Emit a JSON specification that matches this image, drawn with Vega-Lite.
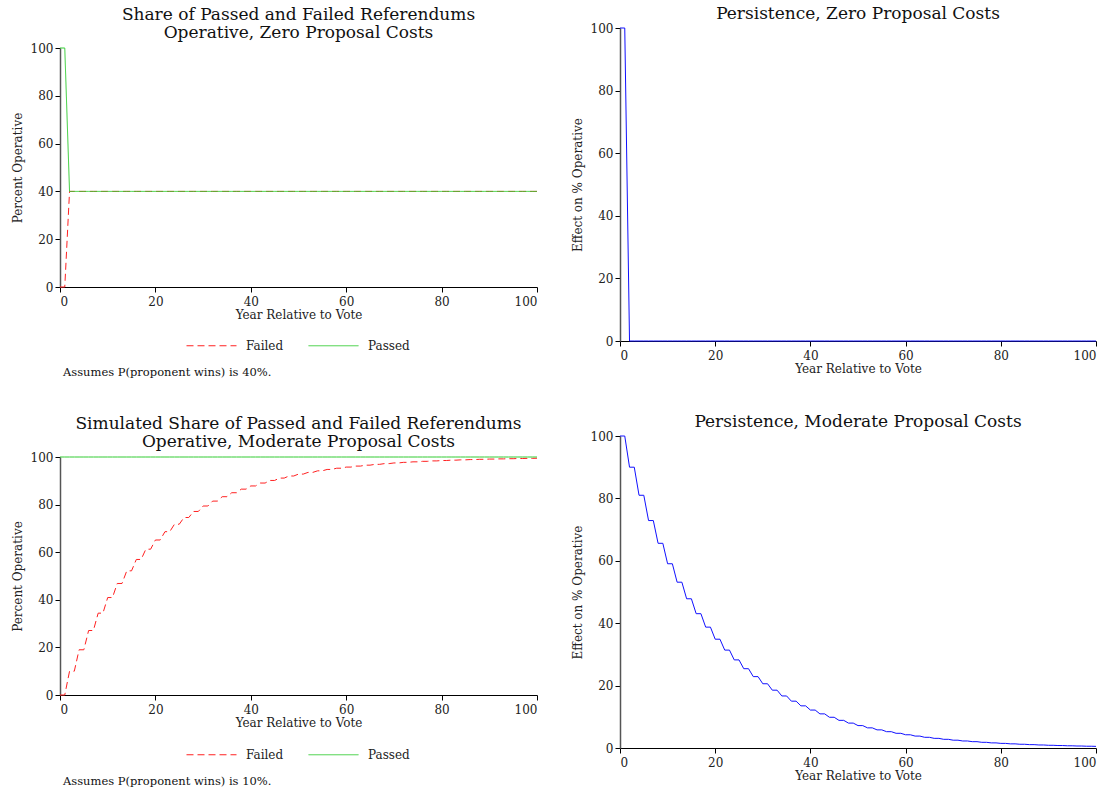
{
"$schema": "https://vega.github.io/schema/vega-lite/v6.json",
"padding": {"left": 11, "top": 5, "right": 5, "bottom": 5},
"datasets": {
"zero": [
{"year":0,"Failed":0,"Passed":100,"effect":100},{"year":1,"Failed":0,"Passed":100,"effect":100},
{"year":2,"Failed":40,"Passed":40,"effect":0},{"year":3,"Failed":40,"Passed":40,"effect":0},{"year":4,"Failed":40,"Passed":40,"effect":0},{"year":5,"Failed":40,"Passed":40,"effect":0},{"year":6,"Failed":40,"Passed":40,"effect":0},{"year":7,"Failed":40,"Passed":40,"effect":0},{"year":8,"Failed":40,"Passed":40,"effect":0},{"year":9,"Failed":40,"Passed":40,"effect":0},
{"year":10,"Failed":40,"Passed":40,"effect":0},{"year":11,"Failed":40,"Passed":40,"effect":0},{"year":12,"Failed":40,"Passed":40,"effect":0},{"year":13,"Failed":40,"Passed":40,"effect":0},{"year":14,"Failed":40,"Passed":40,"effect":0},{"year":15,"Failed":40,"Passed":40,"effect":0},{"year":16,"Failed":40,"Passed":40,"effect":0},{"year":17,"Failed":40,"Passed":40,"effect":0},{"year":18,"Failed":40,"Passed":40,"effect":0},{"year":19,"Failed":40,"Passed":40,"effect":0},
{"year":20,"Failed":40,"Passed":40,"effect":0},{"year":21,"Failed":40,"Passed":40,"effect":0},{"year":22,"Failed":40,"Passed":40,"effect":0},{"year":23,"Failed":40,"Passed":40,"effect":0},{"year":24,"Failed":40,"Passed":40,"effect":0},{"year":25,"Failed":40,"Passed":40,"effect":0},{"year":26,"Failed":40,"Passed":40,"effect":0},{"year":27,"Failed":40,"Passed":40,"effect":0},{"year":28,"Failed":40,"Passed":40,"effect":0},{"year":29,"Failed":40,"Passed":40,"effect":0},
{"year":30,"Failed":40,"Passed":40,"effect":0},{"year":31,"Failed":40,"Passed":40,"effect":0},{"year":32,"Failed":40,"Passed":40,"effect":0},{"year":33,"Failed":40,"Passed":40,"effect":0},{"year":34,"Failed":40,"Passed":40,"effect":0},{"year":35,"Failed":40,"Passed":40,"effect":0},{"year":36,"Failed":40,"Passed":40,"effect":0},{"year":37,"Failed":40,"Passed":40,"effect":0},{"year":38,"Failed":40,"Passed":40,"effect":0},{"year":39,"Failed":40,"Passed":40,"effect":0},
{"year":40,"Failed":40,"Passed":40,"effect":0},{"year":41,"Failed":40,"Passed":40,"effect":0},{"year":42,"Failed":40,"Passed":40,"effect":0},{"year":43,"Failed":40,"Passed":40,"effect":0},{"year":44,"Failed":40,"Passed":40,"effect":0},{"year":45,"Failed":40,"Passed":40,"effect":0},{"year":46,"Failed":40,"Passed":40,"effect":0},{"year":47,"Failed":40,"Passed":40,"effect":0},{"year":48,"Failed":40,"Passed":40,"effect":0},{"year":49,"Failed":40,"Passed":40,"effect":0},
{"year":50,"Failed":40,"Passed":40,"effect":0},{"year":51,"Failed":40,"Passed":40,"effect":0},{"year":52,"Failed":40,"Passed":40,"effect":0},{"year":53,"Failed":40,"Passed":40,"effect":0},{"year":54,"Failed":40,"Passed":40,"effect":0},{"year":55,"Failed":40,"Passed":40,"effect":0},{"year":56,"Failed":40,"Passed":40,"effect":0},{"year":57,"Failed":40,"Passed":40,"effect":0},{"year":58,"Failed":40,"Passed":40,"effect":0},{"year":59,"Failed":40,"Passed":40,"effect":0},
{"year":60,"Failed":40,"Passed":40,"effect":0},{"year":61,"Failed":40,"Passed":40,"effect":0},{"year":62,"Failed":40,"Passed":40,"effect":0},{"year":63,"Failed":40,"Passed":40,"effect":0},{"year":64,"Failed":40,"Passed":40,"effect":0},{"year":65,"Failed":40,"Passed":40,"effect":0},{"year":66,"Failed":40,"Passed":40,"effect":0},{"year":67,"Failed":40,"Passed":40,"effect":0},{"year":68,"Failed":40,"Passed":40,"effect":0},{"year":69,"Failed":40,"Passed":40,"effect":0},
{"year":70,"Failed":40,"Passed":40,"effect":0},{"year":71,"Failed":40,"Passed":40,"effect":0},{"year":72,"Failed":40,"Passed":40,"effect":0},{"year":73,"Failed":40,"Passed":40,"effect":0},{"year":74,"Failed":40,"Passed":40,"effect":0},{"year":75,"Failed":40,"Passed":40,"effect":0},{"year":76,"Failed":40,"Passed":40,"effect":0},{"year":77,"Failed":40,"Passed":40,"effect":0},{"year":78,"Failed":40,"Passed":40,"effect":0},{"year":79,"Failed":40,"Passed":40,"effect":0},
{"year":80,"Failed":40,"Passed":40,"effect":0},{"year":81,"Failed":40,"Passed":40,"effect":0},{"year":82,"Failed":40,"Passed":40,"effect":0},{"year":83,"Failed":40,"Passed":40,"effect":0},{"year":84,"Failed":40,"Passed":40,"effect":0},{"year":85,"Failed":40,"Passed":40,"effect":0},{"year":86,"Failed":40,"Passed":40,"effect":0},{"year":87,"Failed":40,"Passed":40,"effect":0},{"year":88,"Failed":40,"Passed":40,"effect":0},{"year":89,"Failed":40,"Passed":40,"effect":0},
{"year":90,"Failed":40,"Passed":40,"effect":0},{"year":91,"Failed":40,"Passed":40,"effect":0},{"year":92,"Failed":40,"Passed":40,"effect":0},{"year":93,"Failed":40,"Passed":40,"effect":0},{"year":94,"Failed":40,"Passed":40,"effect":0},{"year":95,"Failed":40,"Passed":40,"effect":0},{"year":96,"Failed":40,"Passed":40,"effect":0},{"year":97,"Failed":40,"Passed":40,"effect":0},{"year":98,"Failed":40,"Passed":40,"effect":0},{"year":99,"Failed":40,"Passed":40,"effect":0},
{"year":100,"Failed":40,"Passed":40,"effect":0}
],
"moderate": [
{"year":0,"Failed":0,"Passed":100,"effect":100},{"year":1,"Failed":0,"Passed":100,"effect":100},
{"year":2,"Failed":10,"Passed":100,"effect":90},{"year":3,"Failed":10,"Passed":100,"effect":90},
{"year":4,"Failed":19,"Passed":100,"effect":81},{"year":5,"Failed":19,"Passed":100,"effect":81},
{"year":6,"Failed":27.1,"Passed":100,"effect":72.9},{"year":7,"Failed":27.1,"Passed":100,"effect":72.9},
{"year":8,"Failed":34.39,"Passed":100,"effect":65.61},{"year":9,"Failed":34.39,"Passed":100,"effect":65.61},
{"year":10,"Failed":40.95,"Passed":100,"effect":59.05},{"year":11,"Failed":40.95,"Passed":100,"effect":59.05},
{"year":12,"Failed":46.86,"Passed":100,"effect":53.14},{"year":13,"Failed":46.86,"Passed":100,"effect":53.14},
{"year":14,"Failed":52.17,"Passed":100,"effect":47.83},{"year":15,"Failed":52.17,"Passed":100,"effect":47.83},
{"year":16,"Failed":56.95,"Passed":100,"effect":43.05},{"year":17,"Failed":56.95,"Passed":100,"effect":43.05},
{"year":18,"Failed":61.26,"Passed":100,"effect":38.74},{"year":19,"Failed":61.26,"Passed":100,"effect":38.74},
{"year":20,"Failed":65.13,"Passed":100,"effect":34.87},{"year":21,"Failed":65.13,"Passed":100,"effect":34.87},
{"year":22,"Failed":68.62,"Passed":100,"effect":31.38},{"year":23,"Failed":68.62,"Passed":100,"effect":31.38},
{"year":24,"Failed":71.76,"Passed":100,"effect":28.24},{"year":25,"Failed":71.76,"Passed":100,"effect":28.24},
{"year":26,"Failed":74.58,"Passed":100,"effect":25.42},{"year":27,"Failed":74.58,"Passed":100,"effect":25.42},
{"year":28,"Failed":77.12,"Passed":100,"effect":22.88},{"year":29,"Failed":77.12,"Passed":100,"effect":22.88},
{"year":30,"Failed":79.41,"Passed":100,"effect":20.59},{"year":31,"Failed":79.41,"Passed":100,"effect":20.59},
{"year":32,"Failed":81.47,"Passed":100,"effect":18.53},{"year":33,"Failed":81.47,"Passed":100,"effect":18.53},
{"year":34,"Failed":83.32,"Passed":100,"effect":16.68},{"year":35,"Failed":83.32,"Passed":100,"effect":16.68},
{"year":36,"Failed":84.99,"Passed":100,"effect":15.01},{"year":37,"Failed":84.99,"Passed":100,"effect":15.01},
{"year":38,"Failed":86.49,"Passed":100,"effect":13.51},{"year":39,"Failed":86.49,"Passed":100,"effect":13.51},
{"year":40,"Failed":87.84,"Passed":100,"effect":12.16},{"year":41,"Failed":87.84,"Passed":100,"effect":12.16},
{"year":42,"Failed":89.06,"Passed":100,"effect":10.94},{"year":43,"Failed":89.06,"Passed":100,"effect":10.94},
{"year":44,"Failed":90.15,"Passed":100,"effect":9.85},{"year":45,"Failed":90.15,"Passed":100,"effect":9.85},
{"year":46,"Failed":91.14,"Passed":100,"effect":8.86},{"year":47,"Failed":91.14,"Passed":100,"effect":8.86},
{"year":48,"Failed":92.02,"Passed":100,"effect":7.98},{"year":49,"Failed":92.02,"Passed":100,"effect":7.98},
{"year":50,"Failed":92.82,"Passed":100,"effect":7.18},{"year":51,"Failed":92.82,"Passed":100,"effect":7.18},
{"year":52,"Failed":93.54,"Passed":100,"effect":6.46},{"year":53,"Failed":93.54,"Passed":100,"effect":6.46},
{"year":54,"Failed":94.19,"Passed":100,"effect":5.81},{"year":55,"Failed":94.19,"Passed":100,"effect":5.81},
{"year":56,"Failed":94.77,"Passed":100,"effect":5.23},{"year":57,"Failed":94.77,"Passed":100,"effect":5.23},
{"year":58,"Failed":95.29,"Passed":100,"effect":4.71},{"year":59,"Failed":95.29,"Passed":100,"effect":4.71},
{"year":60,"Failed":95.76,"Passed":100,"effect":4.24},{"year":61,"Failed":95.76,"Passed":100,"effect":4.24},
{"year":62,"Failed":96.18,"Passed":100,"effect":3.82},{"year":63,"Failed":96.18,"Passed":100,"effect":3.82},
{"year":64,"Failed":96.57,"Passed":100,"effect":3.43},{"year":65,"Failed":96.57,"Passed":100,"effect":3.43},
{"year":66,"Failed":96.91,"Passed":100,"effect":3.09},{"year":67,"Failed":96.91,"Passed":100,"effect":3.09},
{"year":68,"Failed":97.22,"Passed":100,"effect":2.78},{"year":69,"Failed":97.22,"Passed":100,"effect":2.78},
{"year":70,"Failed":97.5,"Passed":100,"effect":2.5},{"year":71,"Failed":97.5,"Passed":100,"effect":2.5},
{"year":72,"Failed":97.75,"Passed":100,"effect":2.25},{"year":73,"Failed":97.75,"Passed":100,"effect":2.25},
{"year":74,"Failed":97.97,"Passed":100,"effect":2.03},{"year":75,"Failed":97.97,"Passed":100,"effect":2.03},
{"year":76,"Failed":98.18,"Passed":100,"effect":1.82},{"year":77,"Failed":98.18,"Passed":100,"effect":1.82},
{"year":78,"Failed":98.36,"Passed":100,"effect":1.64},{"year":79,"Failed":98.36,"Passed":100,"effect":1.64},
{"year":80,"Failed":98.52,"Passed":100,"effect":1.48},{"year":81,"Failed":98.52,"Passed":100,"effect":1.48},
{"year":82,"Failed":98.67,"Passed":100,"effect":1.33},{"year":83,"Failed":98.67,"Passed":100,"effect":1.33},
{"year":84,"Failed":98.8,"Passed":100,"effect":1.2},{"year":85,"Failed":98.8,"Passed":100,"effect":1.2},
{"year":86,"Failed":98.92,"Passed":100,"effect":1.08},{"year":87,"Failed":98.92,"Passed":100,"effect":1.08},
{"year":88,"Failed":99.03,"Passed":100,"effect":0.97},{"year":89,"Failed":99.03,"Passed":100,"effect":0.97},
{"year":90,"Failed":99.13,"Passed":100,"effect":0.87},{"year":91,"Failed":99.13,"Passed":100,"effect":0.87},
{"year":92,"Failed":99.21,"Passed":100,"effect":0.79},{"year":93,"Failed":99.21,"Passed":100,"effect":0.79},
{"year":94,"Failed":99.29,"Passed":100,"effect":0.71},{"year":95,"Failed":99.29,"Passed":100,"effect":0.71},
{"year":96,"Failed":99.36,"Passed":100,"effect":0.64},{"year":97,"Failed":99.36,"Passed":100,"effect":0.64},
{"year":98,"Failed":99.43,"Passed":100,"effect":0.57},{"year":99,"Failed":99.43,"Passed":100,"effect":0.57},
{"year":100,"Failed":99.48,"Passed":100,"effect":0.52}
]
},
"config": {
"font": "DejaVu Serif",
"view": {"stroke": null},
"title": {"font": "DejaVu Serif", "fontSize": 17, "fontWeight": "normal", "color": "#111", "offset": 0, "lineHeight": 18},
"axis": {"grid": false, "domainColor": "#000", "tickColor": "#000", "tickSize": 5, "labelFont": "DejaVu Serif", "labelFontSize": 12, "labelColor": "#222", "labelPadding": 2, "titleFont": "DejaVu Serif", "titleFontSize": 12, "titleFontWeight": "normal", "titleColor": "#222"},
"axisY": {"domainColor": "#555", "domainWidth": 1.5, "titlePadding": 6},
"axisX": {"titlePadding": 2, "labelPadding": 4},
"legend": {"labelFont": "DejaVu Serif", "labelFontSize": 12, "labelColor": "#222", "symbolStrokeWidth": 1, "symbolSize": 196, "labelOffset": 45, "columnPadding": 22, "symbolType": "M-1,0H6.142857", "padding": 0}
},
"columns": 2,
"align": "none",
"spacing": 32,
"concat": [
{"spacing": 36, "vconcat": [
 {"spacing": 14, "resolve": {"scale": {"color": "independent", "strokeDash": "independent"}}, "vconcat": [
  {"spacing": 1, "vconcat": [
   {"width": 477, "height": 1, "data": {"values": []}, "mark": "point",
    "title": {"text": ["Share of Passed and Failed Referendums", "Operative, Zero Proposal Costs"], "orient": "bottom", "offset": 0}},
   {"width": 477, "height": 239,
    "data": {"name": "zero"},
    "transform": [{"fold": ["Failed", "Passed"], "as": ["series", "value"]}],
    "mark": {"type": "line", "strokeWidth": 1},
    "encoding": {
     "x": {"field": "year", "type": "quantitative", "scale": {"domain": [0, 100]}, "axis": {"title": "Year Relative to Vote", "values": [0, 20, 40, 60, 80, 100]}},
     "y": {"field": "value", "type": "quantitative", "scale": {"domain": [0, 100]}, "axis": {"title": "Percent Operative", "values": [0, 20, 40, 60, 80, 100]}},
     "color": {"field": "series", "type": "nominal", "scale": {"domain": ["Failed", "Passed"], "range": ["#ff2020", "#33cc33"]}, "legend": {"orient": "none", "legendX": 126, "legendY": 332, "direction": "horizontal", "title": null, "symbolType": "M-1,0H6.142857"}},
     "strokeDash": {"field": "series", "type": "nominal", "scale": {"domain": ["Failed", "Passed"], "range": [[7, 4], [1, 0]]}, "legend": {"orient": "none", "legendX": 126, "legendY": 332, "direction": "horizontal", "title": null, "symbolType": "M-1,0H6.142857"}}
    }}
  ]},
  {"width": 477, "height": 1, "data": {"values": []}, "mark": "point",
   "title": {"text": "Assumes P(proponent wins) is 40%.", "anchor": "start", "fontSize": 11.5, "offset": 0, "dx": 3}}
 ]},
 {"spacing": 14, "resolve": {"scale": {"color": "independent", "strokeDash": "independent"}}, "vconcat": [
  {"spacing": 1, "vconcat": [
   {"width": 477, "height": 1, "data": {"values": []}, "mark": "point",
    "title": {"text": ["Simulated Share of Passed and Failed Referendums", "Operative, Moderate Proposal Costs"], "orient": "bottom", "offset": 0}},
   {"width": 477, "height": 238,
    "data": {"name": "moderate"},
    "transform": [{"fold": ["Failed", "Passed"], "as": ["series", "value"]}],
    "mark": {"type": "line", "strokeWidth": 1},
    "encoding": {
     "x": {"field": "year", "type": "quantitative", "scale": {"domain": [0, 100]}, "axis": {"title": "Year Relative to Vote", "values": [0, 20, 40, 60, 80, 100]}},
     "y": {"field": "value", "type": "quantitative", "scale": {"domain": [0, 100]}, "axis": {"title": "Percent Operative", "values": [0, 20, 40, 60, 80, 100]}},
     "color": {"field": "series", "type": "nominal", "scale": {"domain": ["Failed", "Passed"], "range": ["#ff2020", "#33cc33"]}, "legend": {"orient": "none", "legendX": 126, "legendY": 332, "direction": "horizontal", "title": null, "symbolType": "M-1,0H6.142857"}},
     "strokeDash": {"field": "series", "type": "nominal", "scale": {"domain": ["Failed", "Passed"], "range": [[7, 4], [1, 0]]}, "legend": {"orient": "none", "legendX": 126, "legendY": 332, "direction": "horizontal", "title": null, "symbolType": "M-1,0H6.142857"}}
    }}
  ]},
  {"width": 477, "height": 1, "data": {"values": []}, "mark": "point",
   "title": {"text": "Assumes P(proponent wins) is 10%.", "anchor": "start", "fontSize": 11.5, "offset": 0, "dx": 3}}
 ]}
]},
{"spacing": 39, "vconcat": [
 {"spacing": 0, "vconcat": [
  {"width": 476, "height": 1, "data": {"values": []}, "mark": "point",
   "title": {"text": "Persistence, Zero Proposal Costs", "orient": "bottom", "offset": -1}},
  {"width": 476, "height": 313,
   "data": {"name": "zero"},
   "mark": {"type": "line", "strokeWidth": 1, "color": "#1010ff"},
   "encoding": {
    "x": {"field": "year", "type": "quantitative", "scale": {"domain": [0, 100]}, "axis": {"title": "Year Relative to Vote", "values": [0, 20, 40, 60, 80, 100]}},
    "y": {"field": "effect", "type": "quantitative", "scale": {"domain": [0, 100]}, "axis": {"title": "Effect on % Operative", "values": [0, 20, 40, 60, 80, 100]}}
   }}
 ]},
 {"spacing": 0, "vconcat": [
  {"width": 476, "height": 1, "data": {"values": []}, "mark": "point",
   "title": {"text": "Persistence, Moderate Proposal Costs", "orient": "bottom", "offset": -1}},
  {"width": 476, "height": 312,
   "data": {"name": "moderate"},
   "mark": {"type": "line", "strokeWidth": 1, "color": "#1010ff"},
   "encoding": {
    "x": {"field": "year", "type": "quantitative", "scale": {"domain": [0, 100]}, "axis": {"title": "Year Relative to Vote", "values": [0, 20, 40, 60, 80, 100]}},
    "y": {"field": "effect", "type": "quantitative", "scale": {"domain": [0, 100]}, "axis": {"title": "Effect on % Operative", "values": [0, 20, 40, 60, 80, 100]}}
   }}
 ]}
]}
]
}
